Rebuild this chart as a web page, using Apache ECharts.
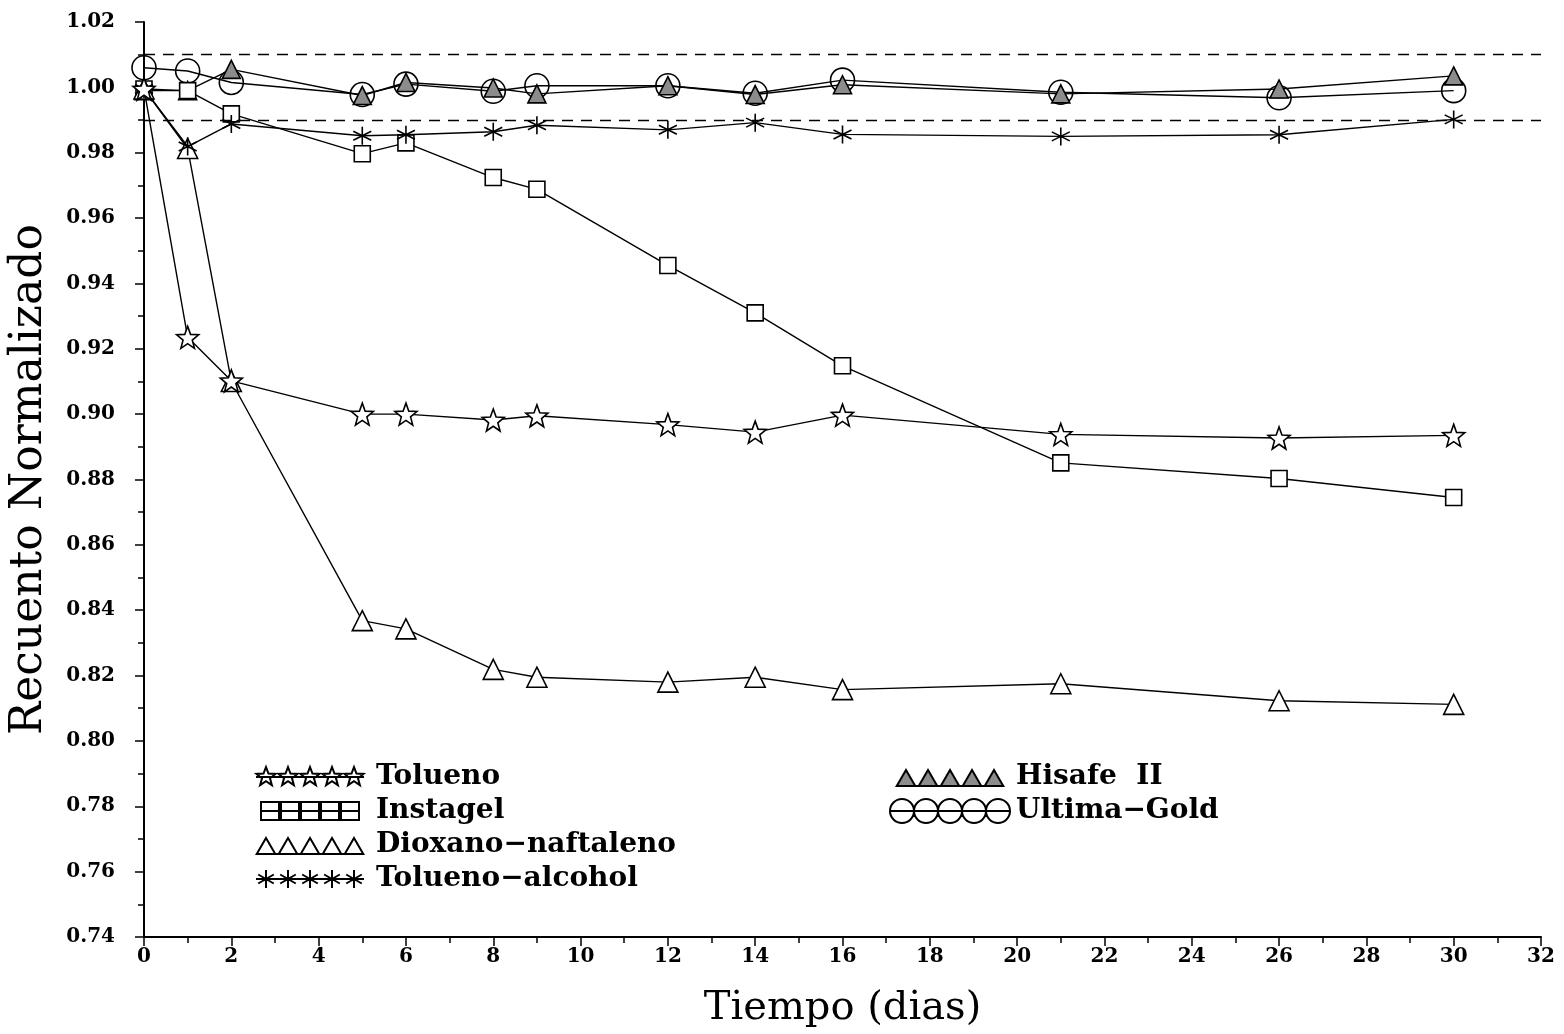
<!DOCTYPE html>
<html>
<head>
<meta charset="utf-8">
<script src="https://cdn.jsdelivr.net/npm/echarts@6/dist/echarts.min.js"></script>
<style>html,body{margin:0;padding:0;background:#fff}#c{width:1564px;height:1034px}</style>
</head>
<body>
<div id="c"></div>
<script>
// ---- data ----
var days = [0, 1, 2, 5, 6, 8, 9, 12, 14, 16, 21, 26, 30];
var tolueno        = [0.9995, 0.9235, 0.9102, 0.9000, 0.9000, 0.8982, 0.8995, 0.8968, 0.8945, 0.8997, 0.8938, 0.8927, 0.8935];
var instagel       = [0.9995, 0.9990, 0.9919, 0.9797, 0.9830, 0.9724, 0.9688, 0.9455, 0.9310, 0.9148, 0.8851, 0.8803, 0.8745];
var dioxano        = [0.9995, 0.9813, 0.9100, 0.8368, 0.8343, 0.8219, 0.8195, 0.8180, 0.8195, 0.8157, 0.8175, 0.8123, 0.8112];
var toluenoAlcohol = [0.9995, 0.9819, 0.9888, 0.9852, 0.9855, 0.9864, 0.9884, 0.9870, 0.9892, 0.9856, 0.9850, 0.9855, 0.9902];
var hisafe         = [0.9990, 0.9990, 1.0055, 0.9975, 1.0015, 0.9998, 0.9980, 1.0005, 0.9978, 1.0008, 0.9980, 0.9995, 1.0035];
var ultimaGold     = [1.0060, 1.0050, 1.0015, 0.9978, 1.0010, 0.9988, 1.0005, 1.0005, 0.9982, 1.0022, 0.9985, 0.9968, 0.9990];
var refLines = [1.01, 0.99];
var xTicks = {min: 0, max: 32, interval: 2};
var yTicks = {min: 0.74, max: 1.02, interval: 0.02};
var names = ['Tolueno', 'Instagel', 'Dioxano\u2212naftaleno', 'Tolueno\u2212alcohol', 'Hisafe  II', 'Ultima\u2212Gold'];

function pairs(v){ return days.map(function(d,i){ return [d, v[i]]; }); }

// ---- symbol paths ----
function starPts(cx, cy, R){
  var r = R*0.42, s = '';
  for (var i=0;i<10;i++){
    var a = -Math.PI/2 + i*Math.PI/5, rr = (i%2===0)?R:r;
    s += (i===0?'M':'L') + (cx+rr*Math.cos(a)).toFixed(2) + ' ' + (cy+rr*Math.sin(a)).toFixed(2) + ' ';
  }
  return s + 'Z ';
}
function triPts(cx, cy, h){ return 'M'+cx+' '+(cy-h/2)+' L'+(cx+h*0.58)+' '+(cy+h/2)+' L'+(cx-h*0.58)+' '+(cy+h/2)+' Z '; }
function rectPts(cx, cy, s){ return 'M'+(cx-s/2)+' '+(cy-s/2)+' L'+(cx+s/2)+' '+(cy-s/2)+' L'+(cx+s/2)+' '+(cy+s/2)+' L'+(cx-s/2)+' '+(cy+s/2)+' Z '; }
function astPts(cx, cy, R){
  var s='';
  for (var k=0;k<3;k++){ var a=Math.PI/2 + k*Math.PI/3; s+='M'+(cx+R*Math.cos(a)).toFixed(2)+' '+(cy+R*Math.sin(a)).toFixed(2)+' L'+(cx-R*Math.cos(a)).toFixed(2)+' '+(cy-R*Math.sin(a)).toFixed(2)+' '; }
  return s;
}
function circPts(cx, cy, r){ return 'M'+(cx-r)+' '+cy+' A'+r+' '+r+' 0 1 0 '+(cx+r)+' '+cy+' A'+r+' '+r+' 0 1 0 '+(cx-r)+' '+cy+' Z '; }

var starSym = 'path://' + starPts(10,10,10);
var triSym = 'path://' + triPts(10,10,20);
var astSym = 'path://' + astPts(10,10,10) + 'M10 10 L10.01 10';

var five = [0,1,2,3,4];
var legStar = 'path://' + five.map(function(i){return starPts(10+i*22,12,10);}).join('') + 'M0 12 L108 12 M0 0 L0.01 0 M0 24 L0.01 24';
var legRect = 'path://' + five.map(function(i){return rectPts(9+i*20,12,18);}).join('') + 'M0 12 L98 12 M0 0 L0.01 0 M0 24 L0.01 24';
var legTri  = 'path://' + five.map(function(i){return triPts(10+i*22,13,16);}).join('') + 'M0 21 L108 21 M0 0 L0.01 0 M0 24 L0.01 24';
var legAst  = 'path://' + five.map(function(i){return astPts(10+i*22,12,9);}).join('') + 'M0 12 L108 12 M0 0 L0.01 0 M0 24 L0.01 24';
var legHis  = 'path://' + five.map(function(i){return triPts(10+i*22,13,16);}).join('') + 'M0 21 L108 21 M0 0 L0.01 0 M0 24 L0.01 24';
var legCir  = 'path://' + five.map(function(i){return circPts(11+i*22,12,11);}).join('') + 'M0 12 L110 12';

var serif = 'DejaVu Serif';
function mkSeries(name, vals, sym, size, fill, z){
  return {
    name: name, type: 'line', data: pairs(vals), symbol: sym, symbolSize: size,
    showAllSymbol: true, z: z,
    lineStyle: {color: '#000', width: 1.4},
    itemStyle: {color: fill, borderColor: '#000', borderWidth: 1.6},
    emphasis: {disabled: true}, animation: false
  };
}

var series = [
  mkSeries(names[5], ultimaGold, 'circle', 24, 'rgba(255,255,255,0)', 2),
  mkSeries(names[4], hisafe, triSym, 18, '#8c8c8c', 3),
  mkSeries(names[1], instagel, 'rect', 16, '#fff', 4),
  mkSeries(names[2], dioxano, triSym, 20, '#fff', 5),
  mkSeries(names[3], toluenoAlcohol, astSym, 18, '#fff', 6),
  mkSeries(names[0], tolueno, starSym, 22, '#fff', 7)
];
series[0].markLine = {
  silent: true, symbol: 'none', animation: false,
  label: {show: false},
  lineStyle: {color: '#000', type: [11, 8], width: 1.3},
  data: refLines.map(function(v){ return {yAxis: v}; })
};

var chart = echarts.init(document.getElementById('c'), null, {renderer: 'canvas'});
chart.setOption({
  backgroundColor: '#fff',
  animation: false,
  grid: {left: 142, right: 23, top: 22, bottom: 86},
  xAxis: {
    type: 'value', min: xTicks.min, max: xTicks.max, interval: xTicks.interval,
    name: 'Tiempo (dias)', nameLocation: 'middle', nameGap: 52,
    nameTextStyle: {fontFamily: serif, fontSize: 40, color: '#000'},
    axisLine: {lineStyle: {color: '#000', width: 2}},
    axisTick: {length: 9, lineStyle: {color: '#000', width: 1.5}},
    minorTick: {show: true, splitNumber: 2, length: 6, lineStyle: {color: '#000', width: 1.5}},
    splitLine: {show: false},
    axisLabel: {margin: 10, fontFamily: serif, fontWeight: 'bold', fontSize: 20, color: '#000'}
  },
  yAxis: {
    type: 'value', min: yTicks.min, max: yTicks.max, interval: yTicks.interval,
    name: 'Recuento Normalizado', nameLocation: 'middle', nameGap: 92, nameRotate: 90,
    nameTextStyle: {fontFamily: serif, fontSize: 44, color: '#000'},
    axisLine: {show: true, lineStyle: {color: '#000', width: 2}},
    axisTick: {length: 9, lineStyle: {color: '#000', width: 1.5}},
    minorTick: {show: true, splitNumber: 2, length: 6, lineStyle: {color: '#000', width: 1.5}},
    splitLine: {show: false},
    axisLabel: {margin: 29, fontFamily: serif, fontWeight: 'bold', fontSize: 20, color: '#000',
      formatter: function(v){ return v.toFixed(2); }}
  },
  legend: [
    {
      orient: 'vertical', left: 250, top: 758, itemWidth: 122, itemHeight: 24, itemGap: 6,
      selectedMode: false,
      textStyle: {fontFamily: serif, fontWeight: 'bold', fontSize: 28, color: '#000', lineHeight: 28},
      data: [
        {name: names[0], icon: legStar},
        {name: names[1], icon: legRect},
        {name: names[2], icon: legTri},
        {name: names[3], icon: legAst}
      ]
    },
    {
      orient: 'vertical', left: 884, top: 758, itemWidth: 122, itemHeight: 24, itemGap: 6,
      selectedMode: false,
      textStyle: {fontFamily: serif, fontWeight: 'bold', fontSize: 28, color: '#000', lineHeight: 28},
      data: [
        {name: names[4], icon: legHis},
        {name: names[5], icon: legCir}
      ]
    }
  ],
  series: series
});
</script>
</body>
</html>
